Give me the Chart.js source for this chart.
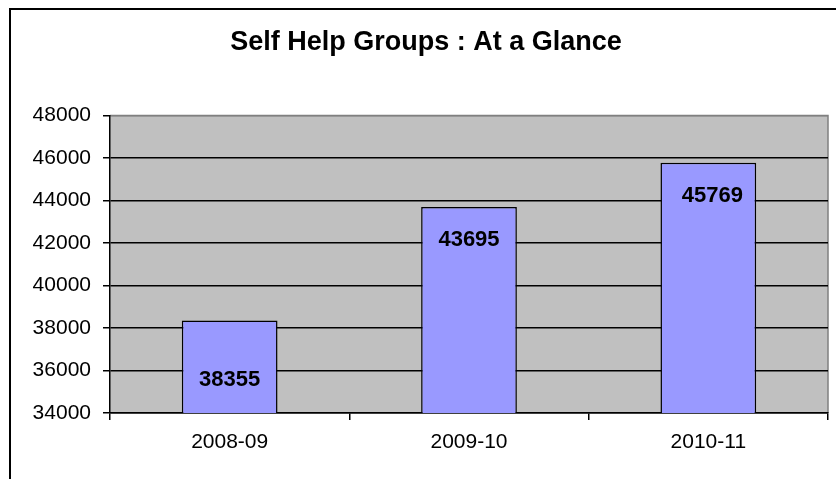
<!DOCTYPE html>
<html>
<head>
<meta charset="utf-8">
<script src="https://cdn.jsdelivr.net/npm/chart.js@4"></script>
<style>
  body { margin: 0; background: #fff; }
  #wrap { position: absolute; left: 9px; top: 8px; border-left: 2px solid #000; border-top: 2px solid #000; }
</style>
</head>
<body>
<div id="wrap"><canvas id="shgChart" width="825" height="469"></canvas></div>
<script>
// data
const years = ['2008-09', '2009-10', '2010-11'];
const groups = [38355, 43695, 45769];
const yTicks = [34000, 36000, 38000, 40000, 42000, 44000, 46000, 48000];

// grey plot area like excel
const plotBg = {
    id: 'plotBg',
    beforeDraw(chart) {
        const a = chart.chartArea, c = chart.ctx;
        c.save();
        c.fillStyle = '#C0C0C0';
        c.fillRect(a.left, a.top, a.right - a.left, a.bottom - a.top);
        c.strokeStyle = '#808080';
        c.lineWidth = 1.5;
        c.beginPath();
        c.moveTo(a.left, a.top);
        c.lineTo(a.right, a.top);
        c.lineTo(a.right, a.bottom);
        c.stroke();
        c.restore();
    }
};

// value labels inside the bars
const barLabels = {
    id: 'barLabels',
    afterDatasetsDraw(chart) {
        const c = chart.ctx;
        const drop = [60, 33, 33];
        c.save();
        c.font = 'bold 22px "Liberation Sans", Arial, sans-serif';
        c.fillStyle = '#000';
        c.textAlign = 'center';
        c.textBaseline = 'middle';
        chart.getDatasetMeta(0).data.forEach((bar, i) => {
            c.fillText(groups[i], bar.x + (i == 2 ? 4 : 0), bar.y + drop[i]);
        });
        c.restore();
    }
};

const ctx = document.getElementById('shgChart').getContext('2d');
const shgChart = new Chart(ctx, {
    type: 'bar',
    data: {
        labels: years,
        datasets: [{
            data: groups,
            backgroundColor: '#9999FF',
            borderColor: '#000',
            borderWidth: 1.5,
            barPercentage: 1,
            categoryPercentage: 0.4
        }]
    },
    options: {
        responsive: false,
        animation: false,
        layout: { padding: { left: 13, right: 8, top: 0, bottom: 0 } },
        plugins: {
            legend: { display: false },
            tooltip: { enabled: false },
            title: {
                display: true,
                text: 'Self Help Groups : At a Glance',
                color: '#000',
                font: { family: '"Liberation Sans", Arial, sans-serif', size: 27, weight: 'bold' },
                padding: { top: 16, bottom: 57 }
            }
        },
        scales: {
            x: {
                afterFit(s) { s.height = 66; },
                grid: { drawOnChartArea: false, drawTicks: true, tickLength: 7, color: '#000', lineWidth: 1.5 },
                border: { color: '#000', width: 1.5 },
                ticks: {
                    color: '#000',
                    padding: 10,
                    font: { family: '"Liberation Sans", Arial, sans-serif', size: 21 }
                }
            },
            y: {
                min: yTicks[0],
                max: yTicks[yTicks.length - 1],
                afterFit(s) { s.width = 86; },
                afterBuildTicks(s) { s.ticks = yTicks.map(v => ({ value: v })); },
                grid: {
                    tickLength: 7,
                    lineWidth: 1.5,
                    color: c => c.tick && c.tick.value == 48000 ? '#808080' : '#000',
                    tickColor: '#000'
                },
                border: { color: '#000', width: 1.5 },
                ticks: {
                    color: '#000',
                    padding: 12,
                    font: { family: '"Liberation Sans", Arial, sans-serif', size: 21 },
                    callback: v => String(v)
                }
            }
        }
    },
    plugins: [plotBg, barLabels]
});
</script>
</body>
</html>
